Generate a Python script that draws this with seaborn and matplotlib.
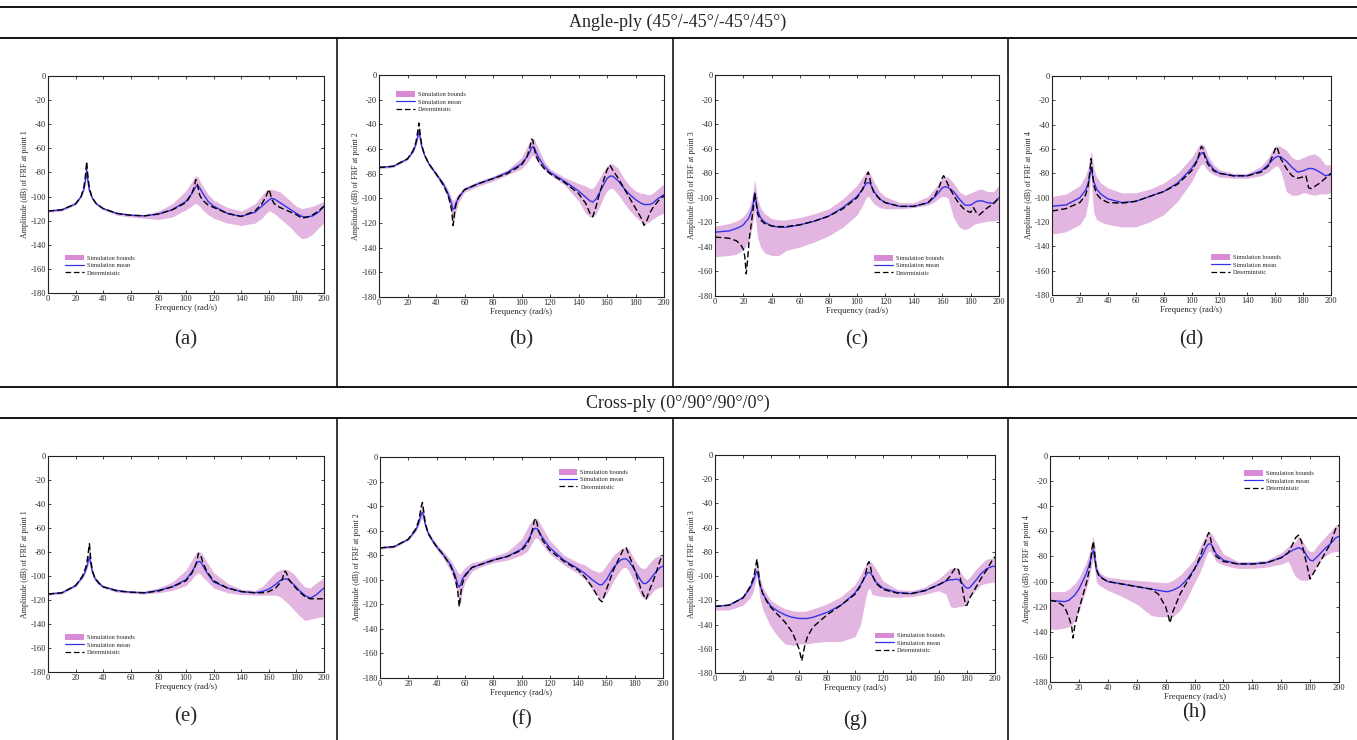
import matplotlib
matplotlib.use("Agg")
import matplotlib.pyplot as plt
from matplotlib.lines import Line2D
from matplotlib.patches import Patch
import seaborn as sns

# ---- Angle-ply, point 1 ----
FREQ_A = [0, 10, 20, 24, 26, 27, 28, 29, 30, 32, 35, 40, 50, 60, 70, 80, 90, 100, 104, 106,
          107, 108, 109, 110, 112, 116, 120, 130, 140, 150, 155, 158, 160, 161, 162, 164, 168,
          172, 176, 180, 184, 188, 192, 196, 200]
MEAN_A = [-112, -111, -106, -100, -94, -88, -78, -88, -95, -101, -106, -110, -114, -115.5, -116,
          -114.5, -111, -104, -98, -94, -92, -91, -91.5, -93, -97, -104, -108, -114, -116.5, -113,
          -108, -105, -103, -102, -101.5, -102, -105, -108, -111, -114, -116.5, -117, -116, -113, -108]
DET_A = [-112, -111, -106, -100, -92, -84, -71, -84, -93, -101, -106, -110, -114, -115.5, -116,
         -114.5, -111, -105, -98, -92, -86, -88, -94, -99, -103, -107, -109, -114, -116.5, -112,
         -106, -100, -94, -97, -102, -106, -109, -111, -113, -115, -118, -117, -115, -112, -108]
UPPER_A = [-111, -110, -105, -99, -92, -85, -71, -85, -93, -100, -105, -109, -113, -114.5, -115,
           -112, -106, -95, -88, -84, -83, -83, -84, -87, -91, -98, -103, -109, -112, -106,
           -99, -95, -94, -94, -94, -94.5, -96, -100, -104, -108, -110, -109, -108, -106, -104]
LOWER_A = [-113, -112, -107, -101, -95, -90, -82, -90, -96, -102, -107, -111, -115.5, -117, -118,
           -119, -117, -111, -108, -106, -106, -106, -107, -108, -111, -115, -118, -122, -124, -122,
           -118, -114, -112, -112, -113, -114, -118, -122, -126, -131, -135, -134, -131, -126, -122]

# ---- Angle-ply, point 2 ----
FREQ_B = [0, 10, 20, 24, 26, 27, 28, 29, 30, 32, 35, 40, 45, 48, 50, 51, 52, 53, 54, 56, 60, 70,
          80, 90, 100, 104, 106, 107, 108, 109, 110, 112, 116, 120, 130, 140, 145, 148, 150, 152,
          155, 158, 160, 162, 164, 168, 172, 176, 180, 184, 186, 188, 190, 192, 196, 200]
MEAN_B = [-75, -74, -68, -62, -56, -51, -45, -52, -58, -65, -72, -80, -88, -95, -101, -105, -109,
          -108, -104, -99, -93, -88, -84, -79, -72, -66, -62, -59, -58, -59, -62, -67, -74, -79, -86,
          -94, -99, -102, -103, -101, -95, -88, -84, -82, -82, -86, -92, -97, -101, -104, -105, -105,
          -105, -104, -100, -97]
DET_B = [-75, -74, -68, -61, -54, -47, -39, -49, -57, -65, -72, -80, -89, -96, -104, -110, -122,
         -112, -105, -99, -93, -88, -84, -80, -73, -66, -58, -52, -53, -60, -65, -70, -76, -80, -87,
         -96, -104, -112, -115, -108, -95, -84, -77, -73, -77, -84, -92, -100, -108, -116, -122, -118,
         -112, -108, -102, -98]
UPPER_B = [-74, -73, -67, -60, -53, -47, -39, -49, -56, -64, -71, -79, -86, -92, -97, -100, -102,
           -101, -99, -96, -91, -86, -82, -77, -67, -58, -54, -52, -51, -52, -55, -60, -70, -76, -83,
           -88, -90, -92, -92, -89, -83, -77, -74, -72, -72, -76, -84, -90, -94, -96, -96, -97,
           -97, -96, -92, -88]
LOWER_B = [-76, -75, -69, -63, -57, -53, -48, -54, -60, -67, -74, -82, -91, -99, -108, -114, -122,
           -117, -110, -103, -95, -90, -86, -81, -76, -71, -68, -66, -65, -66, -68, -72, -77, -81, -89,
           -102, -112, -115, -115, -113, -106, -98, -94, -92, -92, -97, -104, -110, -115, -119, -120,
           -120, -119, -117, -114, -112]

# ---- Angle-ply, point 3 ----
FREQ_C = [0, 10, 15, 18, 20, 21, 22, 23, 24, 26, 27, 28, 29, 30, 32, 35, 40, 45, 50, 60, 70, 80,
          90, 100, 104, 106, 107, 108, 109, 110, 112, 116, 120, 130, 140, 150, 155, 158, 160, 161,
          162, 164, 168, 172, 176, 180, 182, 184, 186, 188, 192, 196, 200]
MEAN_C = [-128, -127, -125, -123.5, -122, -120.5, -119, -118, -116, -110, -104, -96, -103, -110,
          -116, -120, -123, -124, -124, -122, -119, -115, -108, -99, -93, -89, -88, -87.5, -88, -90,
          -95, -101, -104, -107, -107, -104, -99, -95, -92, -91.5, -91, -91.5, -95, -101, -106, -106,
          -104.5, -103, -102.5, -102.5, -104, -104.5, -100]
DET_C = [-132, -133, -135, -138, -142, -148, -162, -150, -135, -117, -108, -96, -104, -113, -118,
         -121, -123, -123.5, -123.5, -122, -119, -115, -109, -100, -93, -86, -81, -79, -84, -90,
         -96, -101, -104, -107, -107, -104, -98, -91, -84, -82, -84, -89, -98, -105, -110, -112,
         -108, -112, -114, -112, -108, -105, -100]
UPPER_C = [-123, -121, -119, -117, -115, -113.5, -112, -110.5, -108, -100, -93, -85, -94, -101,
           -108, -113, -117, -118, -118, -116, -113, -109, -101, -90, -83, -80, -79, -79, -80, -82,
           -87, -95, -99, -104, -104, -99, -92, -87, -84, -83, -83, -83, -88, -95, -98, -96, -95,
           -94, -93, -93, -95, -95, -90]
LOWER_C = [-148, -147, -146, -144, -142, -141, -139, -137, -134, -125, -118, -110, -122, -132,
           -140, -145, -147, -147, -143, -140, -136, -131, -124, -114, -106, -101, -99, -99, -100,
           -102, -105, -108, -109, -109, -108, -106, -103, -100, -99, -99, -99, -100, -116, -124,
           -126, -124, -122, -121, -120.5, -120, -119, -119, -118]

# ---- Angle-ply, point 4 ----
FREQ_D = [0, 10, 20, 24, 26, 27, 28, 29, 30, 32, 35, 40, 50, 60, 70, 80, 90, 100, 104, 106, 107,
          108, 109, 110, 112, 116, 120, 130, 140, 150, 155, 158, 160, 161, 162, 164, 168, 172, 176,
          180, 182, 184, 186, 188, 192, 196, 200]
MEAN_D = [-107, -106, -100, -94, -88, -82, -75, -81, -87, -93, -97, -101, -104, -103, -99, -95,
          -88, -76, -69, -65, -63.5, -63, -64, -66, -71, -77, -80, -82, -82, -78, -73, -69, -67,
          -66.5, -66, -66.5, -70, -75, -79, -78, -77, -76, -76, -76.5, -79, -82, -81]
DET_D = [-111, -109, -104, -98, -90, -80, -68, -80, -90, -97, -101, -104, -104.5, -103, -99, -95,
         -89, -78, -70, -62, -58, -59, -64, -68, -73, -78, -80, -82, -82, -79, -74, -66, -60, -58,
         -61, -68, -76, -82, -84, -83, -82, -92, -92.5, -91, -88, -84, -80]
UPPER_D = [-99, -97, -90, -82, -75, -68, -61, -68, -76, -83, -88, -92, -96, -96, -93, -88, -80,
           -67, -60, -56, -56, -56, -57, -60, -66, -73, -77, -80, -80, -74, -67, -61, -58, -57.5,
           -57.5, -58, -61, -67, -69, -67, -66, -65, -64.5, -64, -67, -73, -73]
LOWER_D = [-130, -128, -122, -115, -103, -92, -80, -100, -113, -118, -120, -122, -124, -124, -120,
           -114, -103, -87, -78, -74, -73, -72, -73, -75, -78, -81, -83, -84, -84, -82, -79, -76,
           -74, -74, -74, -78, -95, -98, -98, -96, -96, -97, -97.5, -98, -97, -97, -96]

# ---- Cross-ply, point 1 ----
FREQ_E = [0, 10, 20, 25, 27, 28, 29, 30, 31, 32, 34, 37, 40, 50, 60, 70, 80, 90, 100, 104, 106,
          108, 109, 110, 111, 112, 115, 120, 130, 140, 150, 155, 160, 165, 168, 170, 171, 172, 173,
          174, 178, 182, 186, 190, 194, 198, 200]
MEAN_E = [-115, -114, -108, -101, -96, -93, -88, -84, -90, -96, -102, -106, -109, -112, -113.5,
          -114, -112, -109, -103, -97, -93, -89, -88, -88, -89, -91, -97, -105, -110, -113, -114,
          -113, -111, -107, -104, -103, -102.5, -102.5, -102.5, -103, -107, -112, -116, -118.5,
          -116, -112, -110]
DET_E = [-115, -114, -108, -100, -94, -90, -82, -73, -86, -95, -102, -106, -109, -112.5, -113.5,
         -114, -112.5, -109, -104, -98, -94, -87, -81, -82, -84, -88, -96, -104, -110, -113, -114,
         -114, -113, -110, -106, -102, -97, -96, -98, -102, -108, -113, -117, -119, -119, -119, -119]
UPPER_E = [-114, -113, -107, -99, -94, -90, -82, -73, -85, -93, -100, -105, -108, -111.5, -112.5,
           -112.5, -110, -105, -95, -87, -83, -80, -80, -80, -80.5, -82, -88, -97, -106, -111, -112,
           -109, -103, -97, -95, -94.5, -94.5, -94.5, -94.5, -95, -98, -104, -109, -110, -106, -103,
           -101]
LOWER_E = [-116, -115, -109, -102, -98, -95, -91, -88, -92, -98, -104, -108, -110, -113.5, -114.5,
           -115, -114, -112, -108, -103, -100, -98, -97.5, -98, -99, -101, -104, -110, -114, -115.5,
           -116, -116, -116, -116, -117, -119, -120, -121, -122, -123, -128, -133, -137, -136, -135,
           -134, -134]

# ---- Cross-ply, point 2 ----
FREQ_F = [0, 10, 20, 25, 27, 28, 29, 30, 31, 32, 34, 37, 40, 45, 50, 53, 55, 56, 57, 58, 60, 65,
          70, 80, 90, 100, 104, 106, 108, 109, 110, 111, 112, 115, 120, 130, 140, 145, 150, 155,
          157, 160, 165, 170, 172, 174, 176, 180, 184, 186, 188, 190, 194, 198, 200]
MEAN_F = [-74, -73, -67, -60, -55, -51, -47, -45, -49, -55, -62, -68, -73, -80, -88, -96, -104,
          -106, -104, -100, -96, -90, -88, -84, -81, -75, -69, -65, -60, -58.5, -58, -58.5, -60,
          -66, -74, -84, -91, -95, -100, -104, -104, -100, -90, -84, -83, -83, -85, -92, -100, -103,
          -103, -101, -95, -90, -89]
DET_F = [-74, -73, -67, -59, -53, -48, -41, -37, -45, -54, -62, -68, -73, -80, -89, -98, -110,
         -122, -112, -104, -97, -90, -88, -84, -81, -76, -71, -66, -58, -52, -50, -54, -60, -68,
         -76, -85, -92, -98, -106, -116, -118, -108, -92, -80, -75, -74, -80, -92, -106, -112, -116,
         -110, -98, -84, -80]
UPPER_F = [-73, -72, -66, -58, -52, -47, -40, -37, -44, -53, -60, -66, -71, -77, -84, -90, -94,
           -95, -95, -93, -90, -86, -85, -81, -77, -67, -58, -54, -51, -50, -50, -50, -52, -58, -68,
           -80, -86, -88, -92, -94, -93, -88, -80, -75, -74, -74, -75, -84, -90, -91, -90, -87, -82,
           -80, -80]
LOWER_F = [-75, -74, -68, -61, -57, -54, -51, -50, -53, -58, -64, -70, -75, -83, -93, -103, -113,
           -120, -118, -110, -102, -93, -90, -86, -84, -80, -77, -73, -69, -67, -66, -66, -67, -72,
           -79, -88, -95, -100, -108, -115, -116, -112, -101, -92, -90, -90, -93, -103, -112, -115,
           -116, -114, -108, -106, -106]

# ---- Cross-ply, point 3 ----
FREQ_G = [0, 10, 20, 25, 27, 28, 29, 30, 31, 32, 34, 37, 40, 45, 50, 55, 58, 60, 62, 64, 66, 70,
          80, 90, 100, 104, 106, 108, 109, 110, 111, 112, 115, 120, 130, 140, 150, 160, 165, 168,
          170, 172, 174, 176, 178, 179, 180, 182, 186, 190, 194, 198, 200]
MEAN_G = [-125, -124, -118, -110, -105, -102, -98, -96, -100, -107, -114, -120, -125, -129, -132,
          -134, -134.5, -135, -135, -135, -135, -134, -130, -124, -114, -107, -103, -99, -97, -97,
          -97.5, -99, -105, -110, -113.5, -114.5, -112, -107, -104, -103, -103, -102.5, -103, -105,
          -108, -109, -110, -109.5, -104, -98, -94, -92, -92]
DET_G = [-125, -124, -118, -109, -103, -99, -92, -86, -96, -106, -114, -121, -126, -132, -138,
         -146, -154, -160, -170, -158, -150, -142, -132, -124, -115, -108, -103, -96, -90, -88, -92,
         -98, -106, -111, -114, -114.5, -112, -107, -104, -100, -96, -93, -95, -106, -118, -124,
         -124, -118, -110, -102, -95, -87, -84]
UPPER_G = [-124, -123, -116, -106, -100, -96, -90, -85, -93, -101, -109, -115, -120, -124, -127,
           -128.5, -129, -129, -129, -129, -128.5, -127, -123, -117, -107, -99, -94, -90, -88, -88,
           -88, -89, -94, -104, -111, -112, -109, -102, -97, -94, -93, -93, -94, -98, -101, -102,
           -103, -101, -95, -90, -86, -85, -84]
LOWER_G = [-128, -128, -124, -118, -114, -109, -104, -100, -108, -118, -127, -135, -142, -150,
           -156, -157, -157, -156, -156, -156, -156, -155, -154, -154, -150, -140, -128, -116, -112,
           -110, -111, -115, -116, -117, -117.5, -117, -115, -112, -115, -125, -126, -126, -125,
           -125, -124.5, -124, -121, -117, -112, -107, -106, -105, -105]

# ---- Cross-ply, point 4 ----
FREQ_H = [0, 5, 10, 13, 15, 16, 17, 20, 25, 27, 28, 29, 30, 31, 32, 34, 37, 40, 50, 60, 70, 75,
          80, 82, 83, 85, 90, 95, 100, 104, 106, 108, 109, 110, 111, 112, 115, 120, 130, 140, 150,
          160, 165, 168, 170, 172, 174, 176, 178, 180, 182, 186, 190, 194, 198, 200]
MEAN_H = [-115, -115.5, -116, -115, -113, -112, -111, -106, -94, -87, -83, -78, -75, -82, -90,
          -95, -98, -100, -102, -104, -106, -107, -108, -108, -107.5, -107, -104, -98, -90, -82,
          -78, -73, -71, -70, -70, -71, -78, -83, -86, -86, -85, -81, -77, -75, -74, -73, -74, -76,
          -80, -83, -83.5, -79, -74, -70, -65, -64]
DET_H = [-115, -116, -120, -128, -136, -145, -136, -122, -102, -92, -85, -74, -68, -78, -90, -96,
         -98, -100, -102, -104, -106, -110, -120, -128, -133, -124, -110, -100, -90, -80, -73, -67,
         -63, -61, -65, -71, -80, -84, -86, -86, -85, -81, -77, -70, -65, -63, -68, -78, -88, -98,
         -94, -86, -78, -70, -57, -55]
UPPER_H = [-108, -108, -108, -106, -104, -103, -102, -97, -85, -78, -74, -68, -64, -72, -86, -92,
           -95, -96.5, -98, -99, -100, -100.5, -101, -100.5, -100, -99, -95, -89, -82, -72, -67,
           -63, -62, -61, -61, -62, -68, -78, -84, -84, -83, -77, -72, -69, -68, -64, -66, -70, -74,
           -76, -76, -70, -65, -60, -55, -55]
LOWER_H = [-138, -138, -137, -136, -135, -133, -131, -124, -106, -98, -92, -86, -82, -90, -100,
           -103, -105, -107, -112, -118, -127, -128, -128, -128, -128, -128, -123, -113, -101, -92,
           -86, -80, -77, -76, -76, -78, -84, -87, -89.5, -89.5, -88.5, -86, -84, -92, -96, -98,
           -99, -99, -99, -97, -92, -85, -80, -77, -76, -76]

PANEL_LABELS = ["(a)", "(b)", "(c)", "(d)", "(e)", "(f)", "(g)", "(h)"]
POINTS = [1, 2, 3, 4, 1, 2, 3, 4]
HEADERS = ["Angle-ply (45\u00b0/-45\u00b0/-45\u00b0/45\u00b0)",
           "Cross-ply (0\u00b0/90\u00b0/90\u00b0/0\u00b0)"]

W, H = 1357, 740
# axes boxes in pixels: left, right, top, bottom
BOXES = [(48, 324, 76, 293), (379, 664, 75, 297), (715, 999, 75, 296), (1052, 1331, 76, 295),
         (48, 324, 456, 672), (380, 663, 457, 678), (715, 995, 455, 673), (1050, 1339, 456, 682)]
LEGEND_ANCHORS = [(0.05, 0.19), (0.05, 0.94), (0.55, 0.2), (0.56, 0.2),
                  (0.05, 0.19), (0.62, 0.96), (0.56, 0.2), (0.66, 0.95)]
LABEL_Y = [340, 340, 340, 340, 717, 720, 720, 713]

FILL_COLOR = "#E3B6E1"
PATCH_COLOR = "#D98CD5"
MEAN_COLOR = "#3434E6"
DASH = (0, (4.5, 2.2))

sns.set_style("ticks")
plt.rcParams["font.family"] = ["Liberation Serif", "DejaVu Serif"]
plt.rcParams["axes.unicode_minus"] = False

panels = [
    (FREQ_A, LOWER_A, UPPER_A, MEAN_A, DET_A),
    (FREQ_B, LOWER_B, UPPER_B, MEAN_B, DET_B),
    (FREQ_C, LOWER_C, UPPER_C, MEAN_C, DET_C),
    (FREQ_D, LOWER_D, UPPER_D, MEAN_D, DET_D),
    (FREQ_E, LOWER_E, UPPER_E, MEAN_E, DET_E),
    (FREQ_F, LOWER_F, UPPER_F, MEAN_F, DET_F),
    (FREQ_G, LOWER_G, UPPER_G, MEAN_G, DET_G),
    (FREQ_H, LOWER_H, UPPER_H, MEAN_H, DET_H),
]

fig = plt.figure(figsize=(W / 100, H / 100), dpi=100)


def hline(y, x0=0, x1=W):
    fig.add_artist(Line2D([x0 / W, x1 / W], [1 - y / H, 1 - y / H],
                          transform=fig.transFigure, color="black", linewidth=1.3))


def vline(x, y0, y1):
    fig.add_artist(Line2D([x / W, x / W], [1 - y0 / H, 1 - y1 / H],
                          transform=fig.transFigure, color="black", linewidth=1.1))


# table frame
hline(7)
hline(38)
hline(387)
hline(418)
for xv in (337, 673, 1008):
    vline(xv, 38, 387)
    vline(xv, 418, H)

fig.text(678 / W, 1 - 22 / H, HEADERS[0], ha="center", va="center", fontsize=13)
fig.text(678 / W, 1 - 403 / H, HEADERS[1], ha="center", va="center", fontsize=13)

legend_handles = [
    Patch(facecolor=PATCH_COLOR, edgecolor="none"),
    Line2D([], [], color=MEAN_COLOR, linewidth=0.9),
    Line2D([], [], color="black", linewidth=0.9, linestyle=DASH),
]
legend_labels = ["Simulation bounds", "Simulation mean", "Deterministic"]

for i, (freq, lower, upper, mean, det) in enumerate(panels):
    l, r, t, b = BOXES[i]
    ax = fig.add_axes([l / W, 1 - b / H, (r - l) / W, (b - t) / H])
    ax.fill_between(freq, lower, upper, color=FILL_COLOR, linewidth=0)
    sns.lineplot(x=freq, y=mean, ax=ax, color=MEAN_COLOR, linewidth=1.0,
                 estimator=None, legend=False)
    sns.lineplot(x=freq, y=det, ax=ax, color="black", linewidth=1.0,
                 linestyle=DASH, estimator=None, legend=False)

    ax.set_xlim(0, 200)
    ax.set_ylim(-180, 0)
    ax.set_xticks(range(0, 201, 20))
    ax.set_yticks(range(-180, 1, 20))
    ax.tick_params(direction="in", top=True, right=True, length=2.5, width=0.6,
                   labelsize=6, pad=1.5)
    for sp in ax.spines.values():
        sp.set_linewidth(0.8)
        sp.set_color("#222222")
    ax.set_xlabel("Frequency (rad/s)", fontsize=6.3, labelpad=1)
    ax.set_ylabel(f"Amplitude (dB) of FRF at point {POINTS[i]}", fontsize=5.8, labelpad=1)

    ax.legend(legend_handles, legend_labels, loc="upper left",
              bbox_to_anchor=LEGEND_ANCHORS[i], frameon=False, fontsize=4.5,
              handlelength=3.0, handleheight=1.0, labelspacing=0.25,
              borderpad=0, handletextpad=0.5)

    fig.text(((l + r) / 2) / W, 1 - LABEL_Y[i] / H, PANEL_LABELS[i],
             ha="center", va="center", fontsize=15)

fig.savefig("out.png", dpi=100)
